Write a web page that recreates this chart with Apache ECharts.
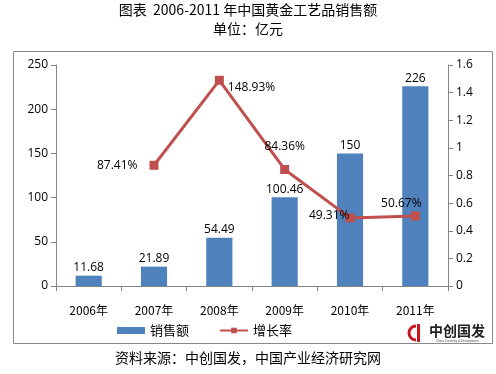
<!DOCTYPE html>
<html><head><meta charset="utf-8">
<script src="https://cdn.jsdelivr.net/npm/echarts@6/dist/echarts.min.js"></script>
<style>html,body{margin:0;padding:0;background:#fff}#c{width:496px;height:374px}</style>
</head><body><div id="c"></div>
<script>
var categories = ['2006年','2007年','2008年','2009年','2010年','2011年'];
var salesValues = [11.68, 21.89, 54.49, 100.46, 150, 226];
var growthValues = [null, 0.8741, 1.4893, 0.8436, 0.4931, 0.5067];
var growthLabels = ['', '87.41%', '148.93%', '84.36%', '49.31%', '50.67%'];
var titleText = '图表  2006-2011 年中国黄金工艺品销售额';
var subText = '单位：亿元';
var sourceText = '资料来源：中创国发，中国产业经济研究网';

var FONT = '"Noto Sans CJK SC", "Noto Sans", sans-serif';
var NUMFONT = '"Open Sans", "Noto Sans", sans-serif';
var labelPos = [
  null,
  {position:'left', distance: 12},
  {position:'right', distance: 4, offset:[0,7]},
  {position:'top', distance: 12},
  {position:'left', distance: -4, offset:[0,-2]},
  {position:'top', distance: 2, offset:[-14,0]}
];
var lineData = growthValues.map(function(v,i){
  if (v === null) return null;
  return {value: v, label: Object.assign({show:true, formatter: growthLabels[i], color:'#000', fontSize:12, fontFamily: NUMFONT}, labelPos[i])};
});

var chart = echarts.init(document.getElementById('c'), null, {renderer:'canvas'});
chart.setOption({
  backgroundColor:'#fff',
  animation:false,
  textStyle:{fontFamily: FONT},
  graphic:[
    {type:'text', left:'center', top:3, style:{text:titleText, font:'14px '+FONT, fill:'#000'}},
    {type:'text', left:'center', top:22, style:{text:subText, font:'14px '+FONT, fill:'#000'}},
    {type:'rect', shape:{x:13.5, y:51.5, width:479, height:292}, style:{fill:'none', stroke:'#888', lineWidth:1}, z:-1},
    {type:'text', left:'center', top:351, style:{text:sourceText, font:'14px '+FONT, fill:'#000'}},
    {type:'arc', shape:{cx:416, cy:333, r:7, startAngle:Math.PI*0.5, endAngle:Math.PI*1.5}, style:{stroke:'#c8161d', lineWidth:3, fill:'none'}},
    {type:'rect', shape:{x:417, y:324, width:3, height:18}, style:{fill:'#c8161d'}},
    {type:'text', left:429, top:324, style:{text:'中创国发', font:'bold 14px "Noto Sans CJK SC"', fill:'#222'}},
    {type:'text', left:436, top:340, style:{text:'China Creativity & Development', font:'3px sans-serif', fill:'#555'}}
  ],
  legend:{
    bottom:32, left:112,
    itemGap:30, itemWidth:28, itemHeight:7,
    textStyle:{fontSize:13, color:'#000', fontFamily: FONT},
    data:[{name:'销售额', icon:'rect'}, {name:'增长率'}]
  },
  grid:{left:56, right:48, top:65, bottom:88},
  xAxis:{
    type:'category', data:categories, boundaryGap:true,
    axisLine:{lineStyle:{color:'#868686'}},
    axisTick:{show:true, alignWithLabel:false, length:5, lineStyle:{color:'#868686'}},
    axisLabel:{color:'#000', fontSize:12, margin:18, fontFamily: FONT}
  },
  yAxis:[
    {type:'value', min:0, max:250, interval:50,
     axisLine:{show:true, lineStyle:{color:'#868686'}},
     axisTick:{show:true, length:5, lineStyle:{color:'#868686'}},
     splitLine:{show:false},
     axisLabel:{color:'#000', fontSize:12, margin:8, fontFamily: NUMFONT}},
    {type:'value', min:0, max:1.6, interval:0.2, position:'right',
     axisLine:{show:true, lineStyle:{color:'#868686'}},
     axisTick:{show:true, length:5, lineStyle:{color:'#868686'}},
     splitLine:{show:false},
     axisLabel:{color:'#000', fontSize:12, margin:8, fontFamily: NUMFONT}}
  ],
  series:[
    {name:'销售额', type:'bar', data:salesValues, barWidth:'40%', yAxisIndex:0,
     itemStyle:{color:'#4F81BD'},
     label:{show:true, position:'top', distance:2, color:'#000', fontSize:12, fontFamily: NUMFONT}},
    {name:'增长率', type:'line', data:lineData, yAxisIndex:1,
     symbol:'rect', symbolSize:9, connectNulls:false,
     lineStyle:{color:'#C0504D', width:3},
     itemStyle:{color:'#C0504D'}}
  ]
});
</script></body></html>
